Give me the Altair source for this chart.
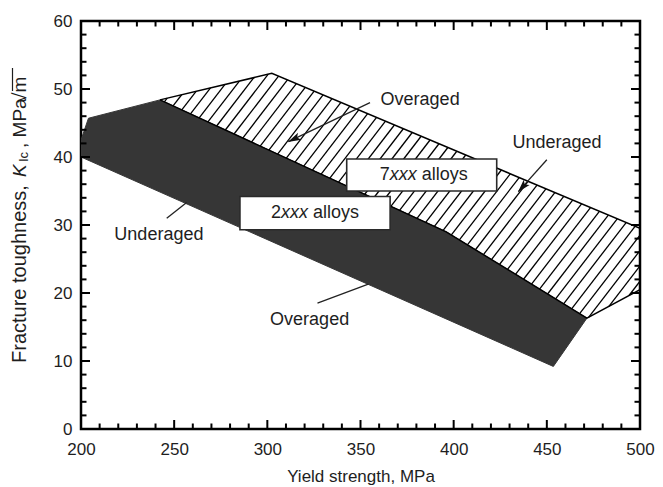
import math
import altair as alt
import pandas as pd

# ---------------- data ----------------
x_domain = [200, 500]
y_domain = [0, 60]
x_labels = [200, 250, 300, 350, 400, 450, 500]
y_labels = [0, 10, 20, 30, 40, 50, 60]
x_major = [250, 300, 350, 400, 450]
x_minor = [210, 220, 230, 240, 260, 270, 280, 290, 310, 320, 330, 340, 360, 370, 380, 390,
           410, 420, 430, 440, 460, 470, 480, 490]
y_major = [10, 20, 30, 40, 50]
y_minor = [2, 4, 6, 8, 12, 14, 16, 18, 22, 24, 26, 28, 32, 34, 36, 38, 42, 44, 46, 48, 52, 54, 56, 58]

# 2xxx alloys band (dark)
dark_x = [200.0, 200.0, 204.0, 242.4, 396.0, 471.5, 453.5]
dark_y = [40.0, 42.5, 45.7, 48.4, 29.0, 16.3, 9.2]
# 7xxx alloys band (hatched)
hatch_x = [242.4, 302.4, 500.0, 500.0, 471.5, 396.0]
hatch_y = [48.4, 52.3, 29.5, 20.5, 16.3, 29.0]

# annotation labels
ann_text = ["Overaged", "Underaged", "Underaged", "Overaged"]
ann_x = [382.0, 455.5, 241.8, 322.7]
ann_y = [48.4, 42.0, 28.6, 16.0]
# leader lines (start -> end)
lead_x1 = [355.1, 450.0, 246.0, 326.9]
lead_y1 = [48.0, 39.6, 31.0, 18.5]
lead_x2 = [311.3, 434.7, 256.7, 354.2]
lead_y2 = [42.25, 34.9, 33.3, 21.3]
lead_arrow = [True, True, False, False]

# label boxes
box_num = ["7", "2"]
box_x1 = [342.6, 285.3]
box_x2 = [423.1, 365.9]
box_y1 = [39.7, 34.2]
box_y2 = [35.0, 29.3]

# ---------------- layout ----------------
W, H = 559, 408
FONT = "Liberation Sans"
TXT = "#1e1e1e"
DARK = "#363636"
px_x = W / (x_domain[1] - x_domain[0])
px_y = H / (y_domain[1] - y_domain[0])

xs = alt.Scale(domain=x_domain, nice=False, zero=False)
ys = alt.Scale(domain=y_domain, nice=False, zero=False)


def poly_df(px, py):
    return pd.DataFrame({"x": list(px) + [px[0]], "y": list(py) + [py[0]],
                         "i": list(range(len(px) + 1))})


df_dark = poly_df(dark_x, dark_y)
df_hatch = poly_df(hatch_x, hatch_y)

# hatch lines clipped to the 7xxx polygon
slope = 1.3 * px_x / px_y          # data-space slope of the hatch lines
spacing = 11.8 / px_x              # horizontal spacing in MPa
pts = list(zip(hatch_x, hatch_y))
cs = [px_ - py_ / slope for px_, py_ in pts]
segs = []
c = min(cs) + spacing * 0.5
while c < max(cs):
    hits = []
    n = len(pts)
    for k in range(n):
        (xa, ya), (xb, yb) = pts[k], pts[(k + 1) % n]
        fa = ya - slope * (xa - c)
        fb = yb - slope * (xb - c)
        if (fa > 0) != (fb > 0):
            t = fa / (fa - fb)
            hits.append((xa + t * (xb - xa), ya + t * (yb - ya)))
    hits.sort()
    for k in range(0, len(hits) - 1, 2):
        segs.append({"x": hits[k][0], "y": hits[k][1], "x2": hits[k + 1][0], "y2": hits[k + 1][1]})
    c += spacing
df_seg = pd.DataFrame(segs)

df_lead = pd.DataFrame({"x": lead_x1, "y": lead_y1, "x2": lead_x2, "y2": lead_y2})
heads = []
for a, b, cc, d, f in zip(lead_x1, lead_y1, lead_x2, lead_y2, lead_arrow):
    if not f:
        continue
    dxp = (cc - a) * px_x
    dyp = -(d - b) * px_y
    L = math.hypot(dxp, dyp)
    ang = math.degrees(math.atan2(dxp, -dyp)) % 360
    back = 6.0
    heads.append({"x": cc - dxp / L * back / px_x, "y": d + dyp / L * back / px_y, "ang": ang})
df_head = pd.DataFrame(heads)

df_ann = pd.DataFrame({"t": ann_text, "x": ann_x, "y": ann_y})
df_box = pd.DataFrame({"x": box_x1, "x2": box_x2, "y": box_y1, "y2": box_y2})

X = lambda **k: alt.X("x:Q", scale=xs, **k)
Y = lambda **k: alt.Y("y:Q", scale=ys, **k)

base_x_axis = alt.Axis(values=x_labels, ticks=False, domain=False, grid=False, labelFlush=False,
                       labelFontSize=17, labelPadding=12, labelColor=TXT, labelFont=FONT,
                       title="Yield strength, MPa", titleFontSize=17, titleFont=FONT,
                       titleFontWeight="normal", titleColor=TXT, titlePadding=11)
base_y_axis = alt.Axis(values=y_labels, ticks=False, domain=False, grid=False, labelFlush=False,
                       labelFontSize=17, labelPadding=9, labelColor=TXT, labelFont=FONT,
                       title=None)

dark = alt.Chart(df_dark).mark_line(fill=DARK, stroke=DARK, strokeWidth=1, clip=True).encode(
    x=X(axis=base_x_axis), y=Y(axis=base_y_axis), order="i:Q")

hatch = alt.Chart(df_seg).mark_rule(color="black", strokeWidth=1.3).encode(
    x=X(), y=Y(), x2="x2:Q", y2="y2:Q")
hatch_out = alt.Chart(df_hatch).mark_line(color="black", strokeWidth=1.5, clip=True).encode(
    x=X(), y=Y(), order="i:Q")

leads = alt.Chart(df_lead).mark_rule(color="#222", strokeWidth=1.3).encode(
    x=X(), y=Y(), x2="x2:Q", y2="y2:Q")
arrow = alt.Chart(df_head).mark_point(shape="M0,-1L0.6,1L0,0.55L-0.6,1Z", filled=True,
                                      color="#111", size=170, opacity=1).encode(
    x=X(), y=Y(), angle=alt.Angle("ang:Q", scale=None))

boxes = alt.Chart(df_box).mark_rect(fill="white", stroke="#2a2a2a", strokeWidth=1.6).encode(
    x=X(), x2="x2:Q", y=Y(), y2="y2:Q")

ann = alt.Chart(df_ann).mark_text(font=FONT, fontSize=18, color=TXT).encode(
    x=X(), y=Y(), text="t:N")

box_layers = []
dxs = {"7": (-42, -32, 0), "2": (-44, -34, -2)}
for num, a, b, cc, d in zip(box_num, box_x1, box_x2, box_y1, box_y2):
    dfc = pd.DataFrame({"x": [(a + b) / 2], "y": [(cc + d) / 2], "n": [num],
                        "it": ["xxx"], "r": ["alloys"]})
    d1, d2, d3 = dxs[num]
    for field, style, dx in (("n", "normal", d1), ("it", "italic", d2), ("r", "normal", d3)):
        box_layers.append(alt.Chart(dfc).mark_text(font=FONT, fontSize=18, color=TXT,
                                                   align="left", fontStyle=style, dx=dx).encode(
            x=X(), y=Y(), text=f"{field}:N"))

# y-axis title, assembled from pieces (italic K, subscript Ic, radical with bar)
title_pieces = [
    ("Fracture toughness,", "normal", 20, -61, 342),
    ("K", "italic", 19, -61, 156),
    ("Ic", "normal", 13, -57, 141),
    (", MPa", "normal", 19, -61, 127),
    ("\u221am", "normal", 19, -61, 82),
]
ytitle = []
for txt, style, fs, px, py in title_pieces:
    ytitle.append(alt.Chart(pd.DataFrame({"t": [txt]})).mark_text(
        font=FONT, fontSize=fs, fontStyle=style, color=TXT, angle=270,
        align="left", baseline="middle").encode(
        x=alt.value(px), y=alt.value(py), text="t:N"))
overbar = alt.Chart(pd.DataFrame({"t": [0]})).mark_rule(color=TXT, strokeWidth=1.2).encode(
    x=alt.value(-68.5), y=alt.value(47), y2=alt.value(70))

# frame ticks (inward), drawn through the x / y scales
MAJ_PX, MIN_PX = 9, 5.5
tick_rows = []
for vals, ln in ((x_major, MAJ_PX), (x_minor, MIN_PX)):
    dy = ln / px_y
    for v in vals:
        tick_rows.append({"x": v, "x2": v, "y": y_domain[0], "y2": y_domain[0] + dy})
        tick_rows.append({"x": v, "x2": v, "y": y_domain[1], "y2": y_domain[1] - dy})
for vals, ln in ((y_major, MAJ_PX), (y_minor, MIN_PX)):
    dx = ln / px_x
    for v in vals:
        tick_rows.append({"x": x_domain[0], "x2": x_domain[0] + dx, "y": v, "y2": v})
        tick_rows.append({"x": x_domain[1], "x2": x_domain[1] - dx, "y": v, "y2": v})
df_ticks = pd.DataFrame(tick_rows)
ticks = alt.Chart(df_ticks).mark_rule(color="black", strokeWidth=2).encode(
    x=X(), y=Y(), x2="x2:Q", y2="y2:Q")

chart = alt.layer(dark, hatch, hatch_out, leads, arrow, boxes, ann, *box_layers,
                  *ytitle, overbar, ticks).properties(
    width=W, height=H,
    autosize=alt.AutoSizeParams(type="none"),
    padding={"left": 73, "top": 13, "right": 15, "bottom": 58},
    background="white",
).configure_view(stroke="black", strokeWidth=2.5)

chart.save("out.html", embed_options={"renderer": "svg", "actions": False})
